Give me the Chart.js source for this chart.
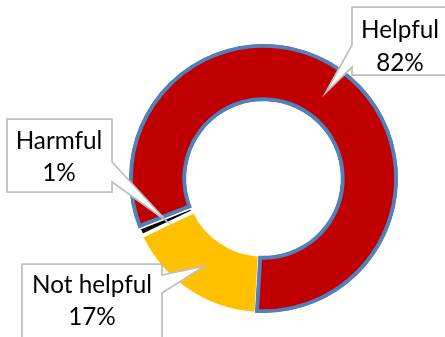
<!DOCTYPE html>
<html><head><meta charset="utf-8">
<script src="https://cdn.jsdelivr.net/npm/chart.js@4.4.1/dist/chart.umd.min.js"></script>
<style>html,body{margin:0;padding:0;background:#fff;overflow:hidden}#wrap{width:445px;height:337px;position:relative}</style>
</head><body><div id="wrap"><canvas id="c"></canvas></div>
<script>
// ---- data ----
const categories = ['Not helpful', 'Harmful', 'Helpful'];
const values = [17, 1, 82];
const valueLabels = ['17%', '1%', '82%'];

// ---- style / layout ----
const sliceColors = ['#FFC000', '#000000', '#C00000'];
const sliceBorderColors = ['#FFFFFF', '#FFFFFF', '#4F81BD'];
const sliceBorderWidths = [2, 4, 3.5];
const sliceBorderAlign = ['center', 'center', 'inner'];
// callout boxes: x, y, w, h, pointer side, pointer base y1..y2, text centre x, baselines
const callouts = [
  {x: 22, y: 264, w: 140, h: 90, side: 'right', b1: 275, b2: 293, cx: 92, l1: 293, l2: 325},
  {x: 7, y: 119, w: 105, h: 73, side: 'right', b1: 162, b2: 182, cx: 59, l1: 149, l2: 181},
  {x: 352, y: 7, w: 110, h: 68, side: 'left', b1: 45, b2: 67, cx: 400, l1: 38, l2: 71}
];

const calloutPlugin = {
  id: 'callouts',
  afterDatasetsDraw(chart) {
    const ctx = chart.ctx;
    const meta = chart.getDatasetMeta(0);
    ctx.save();
    ctx.font = '100px Lato';
    const fs = 100 * 120 / ctx.measureText('Not helpful').width;
    meta.data.forEach((arc, i) => {
      const c = callouts[i];
      const tip = arc.getCenterPoint();
      ctx.beginPath();
      if (c.side === 'right') {
        ctx.moveTo(c.x, c.y);
        ctx.lineTo(c.x + c.w, c.y);
        ctx.lineTo(c.x + c.w, c.b1);
        ctx.lineTo(tip.x, tip.y);
        ctx.lineTo(c.x + c.w, c.b2);
        ctx.lineTo(c.x + c.w, c.y + c.h);
        ctx.lineTo(c.x, c.y + c.h);
      } else {
        ctx.moveTo(c.x, c.y);
        ctx.lineTo(c.x + c.w, c.y);
        ctx.lineTo(c.x + c.w, c.y + c.h);
        ctx.lineTo(c.x, c.y + c.h);
        ctx.lineTo(c.x, c.b2);
        ctx.lineTo(tip.x, tip.y);
        ctx.lineTo(c.x, c.b1);
      }
      ctx.closePath();
      ctx.fillStyle = '#FFFFFF';
      ctx.fill();
      ctx.lineWidth = 1.75;
      ctx.strokeStyle = '#BFBFBF';
      ctx.lineJoin = 'miter';
      ctx.stroke();
      ctx.fillStyle = '#000000';
      ctx.font = fs.toFixed(2) + 'px Lato';
      ctx.textAlign = 'center';
      ctx.textBaseline = 'alphabetic';
      ctx.fillText(categories[i], c.cx, c.l1);
      ctx.fillText(valueLabels[i], c.cx, c.l2);
    });
    ctx.restore();
  }
};

new Chart(document.getElementById('c'), {
  type: 'doughnut',
  data: {
    labels: categories,
    datasets: [{
      data: values,
      backgroundColor: sliceColors,
      borderColor: sliceBorderColors,
      borderWidth: sliceBorderWidths,
      borderAlign: sliceBorderAlign,
      hoverOffset: 0
    }]
  },
  options: {
    responsive: true,
    maintainAspectRatio: false,
    animation: false,
    rotation: 183.5,
    cutout: '57.5%',
    layout: {padding: {left: 127, right: 45, top: 42, bottom: 22}},
    plugins: {legend: {display: false}, tooltip: {enabled: false}},
    events: []
  },
  plugins: [calloutPlugin]
});
</script>
</body></html>
